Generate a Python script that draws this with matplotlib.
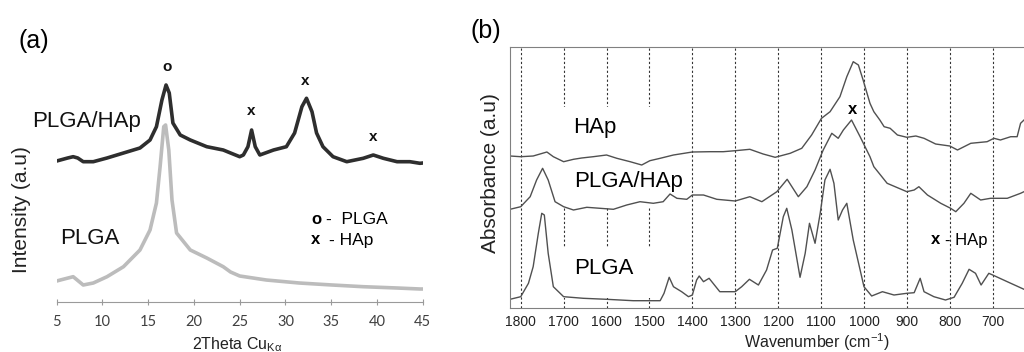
import matplotlib.pyplot as plt
from matplotlib.patches import Rectangle

plt.rcParams['font.family'] = ['Liberation Sans', 'DejaVu Sans']
plt.rcParams['mathtext.fontset'] = 'custom'
plt.rcParams['mathtext.rm'] = 'Liberation Sans'
plt.rcParams['mathtext.it'] = 'Liberation Sans:italic'
plt.rcParams['mathtext.bf'] = 'Liberation Sans:bold'

#
# ---- (a) XRD data (intensity in arbitrary units)
xrdAngleComp = [5.0, 5.4, 6.2, 6.8, 7.3, 7.9, 9.0, 10.5, 12.3, 14.1, 15.2, 15.9,
                16.5, 16.95, 17.3, 17.7, 18.5, 19.6, 21.4, 23.2, 24.0, 25.0,
                25.4, 25.9, 26.3, 26.7, 27.2, 28.7, 30.1, 31.0, 31.8, 32.3,
                32.9, 33.4, 34.1, 35.2, 36.7, 38.5, 39.6, 40.7, 42.2, 43.6,
                44.7, 45.0]
xrdComp = [140.7, 141.7, 143.7, 145.0, 143.7, 140.0, 140.0, 143.7, 148.7, 153.7,
           161.7, 175.0, 201.7, 216.7, 208.7, 178.7, 166.7, 161.7, 155.0, 151.7,
           148.7, 145.0, 146.7, 155.0, 171.7, 155.0, 146.7, 151.7, 155.0, 168.7,
           195.0, 203.4, 190.0, 168.7, 155.0, 145.0, 140.0, 143.4, 146.7, 143.4,
           140.0, 140.0, 138.4, 138.7]
xrdAnglePlga = [5.0, 5.4, 6.8, 7.9, 9.0, 10.5, 12.3, 14.1, 15.2, 15.9, 16.3, 16.7,
                16.9, 17.25, 17.6, 18.1, 19.6, 21.4, 23.2, 24.0, 25.0, 27.9,
                31.5, 35.1, 38.5, 42.2, 44.7, 45.0]
xrdPlga = [20.7, 21.7, 25.0, 16.7, 18.7, 25.0, 35.0, 51.7, 71.7, 98.7, 135.0,
           175.0, 176.7, 151.7, 101.7, 68.7, 51.7, 43.7, 35.0, 29.7, 25.7, 21.7,
           18.7, 16.7, 15.0, 13.7, 12.7, 12.7]
xrdTicks = [5, 10, 15, 20, 25, 30, 35, 40, 45]
xrdPeakAngles = [17.05, 26.2, 32.2, 39.6]
xrdPeakHeights = [234.7, 191.0, 220.7, 165.0]
xrdPeakSymbols = ['o', 'x', 'x', 'x']

#
# ---- (b) FTIR data (absorbance in arbitrary units)
wnHap = [1825, 1800, 1771, 1739, 1724, 1700, 1677, 1658, 1631, 1600, 1576, 1545,
         1518, 1499, 1475, 1444, 1400, 1359, 1328, 1300, 1266, 1235, 1207, 1172,
         1145, 1122, 1099, 1079, 1056, 1040, 1025, 1013, 1002, 986, 977, 963,
         953, 939, 922, 900, 879, 860, 833, 800, 782, 751, 713, 697, 682, 658,
         643, 635, 627]
absHap = [151.7, 151.0, 151.7, 155.7, 151.0, 146.0, 148.4, 149.7, 151.0, 152.7,
          149.4, 146.0, 142.7, 147.0, 149.4, 152.7, 155.7, 156.0, 156.0, 157.0,
          158.4, 153.7, 150.4, 154.4, 159.4, 172.7, 189.4, 196.0, 211.0, 231.0,
          246.0, 242.7, 227.7, 204.4, 196.0, 187.7, 181.0, 179.4, 172.7, 170.4,
          171.7, 169.4, 163.7, 161.7, 157.7, 164.4, 166.0, 169.4, 167.7, 171.0,
          171.0, 184.4, 187.7]
wnComp = [1825, 1800, 1778, 1763, 1749, 1736, 1720, 1700, 1677, 1646, 1615, 1584,
          1553, 1522, 1491, 1468, 1452, 1436, 1413, 1400, 1374, 1343, 1300, 1266,
          1238, 1203, 1179, 1153, 1133, 1114, 1095, 1075, 1060, 1048, 1029, 1009,
          986, 977, 946, 900, 883, 872, 852, 821, 798, 786, 767, 751, 728, 705,
          666, 635, 627]
absComp = [98.4, 101.0, 111.0, 127.7, 139.4, 127.7, 106.0, 101.0, 97.7, 100.4,
           99.4, 98.4, 102.7, 106.0, 104.4, 106.0, 113.7, 109.4, 108.4, 112.7,
           112.7, 108.4, 106.7, 111.0, 106.0, 116.0, 128.4, 111.0, 121.0, 137.7,
           157.7, 174.4, 169.4, 177.7, 187.7, 171.0, 151.0, 141.0, 124.4, 116.0,
           117.7, 121.0, 112.7, 104.4, 99.4, 96.0, 104.4, 114.4, 107.7, 109.4,
           109.4, 114.4, 116.0]
wnPlga = [1825, 1800, 1782, 1771, 1759, 1751, 1745, 1736, 1724, 1700, 1654, 1600,
          1538, 1475, 1466, 1454, 1444, 1425, 1409, 1400, 1390, 1384, 1374, 1361,
          1336, 1300, 1285, 1267, 1246, 1227, 1213, 1202, 1188, 1180, 1168, 1149,
          1137, 1127, 1114, 1102, 1091, 1079, 1070, 1060, 1050, 1040, 1025, 1000,
          982, 957, 930, 900, 883, 869, 860, 837, 810, 790, 771, 755, 740, 727,
          709, 700, 666, 627]
absPlga = [8.4, 11.0, 24.4, 41.0, 74.4, 94.4, 92.7, 54.4, 21.0, 11.0, 9.4, 8.4,
           7.0, 7.0, 14.4, 30.4, 21.0, 16.0, 11.0, 12.7, 27.7, 31.7, 26.0, 29.4,
           16.0, 16.0, 21.0, 28.4, 22.7, 37.7, 57.7, 59.4, 91.0, 99.4, 77.7, 30.4,
           54.4, 84.4, 64.4, 94.4, 127.7, 138.4, 124.4, 87.7, 97.7, 104.4, 67.7,
           21.0, 11.7, 16.0, 12.7, 14.4, 15.0, 29.4, 16.0, 11.0, 7.7, 10.4, 24.4,
           38.4, 34.4, 22.7, 34.4, 32.7, 26.0, 18.4]
ftirTicks = [1800, 1700, 1600, 1500, 1400, 1300, 1200, 1100, 1000, 900, 800, 700]


def main():
    W, H = 1024, 352
    fig = plt.figure(figsize=(W / 100, H / 100), dpi=100)

    #
    # ---- panel (a)
    ax1 = fig.add_axes([56.7 / W, 1 - 301.7 / H, 366 / W, 251.7 / H])
    ax1.plot(xrdAnglePlga, xrdPlga, color='#bcbcbc', lw=2.6, zorder=2)
    ax1.plot(xrdAngleComp, xrdComp, color='#2e2e2e', lw=2.6, zorder=3)
    ax1.set_xlim(5, 45)
    ax1.set_ylim(0, 251.7)
    for s in ['left', 'top', 'right']:
        ax1.spines[s].set_visible(False)
    ax1.spines['bottom'].set_color('#9a9a9a')
    ax1.set_yticks([])
    ax1.set_xticks(xrdTicks)
    ax1.tick_params(axis='x', direction='inout', length=5, color='#9a9a9a',
                    labelsize=10.5, labelcolor='#404040', pad=7)
    for lab in ax1.get_xticklabels():
        lab.set_family('Lato')
    for xa, ya, sym in zip(xrdPeakAngles, xrdPeakHeights, xrdPeakSymbols):
        ax1.text(xa, ya, sym, ha='center', va='center', fontsize=11,
                 fontweight='bold', color='#111111')
    ax1.text(2.3, 180, 'PLGA/HAp', fontsize=16, va='center', ha='left',
             clip_on=False, color='#111111')
    ax1.text(5.36, 63, 'PLGA', fontsize=16, va='center', ha='left',
             color='#111111')
    ax1.text(32.8, 82.7, 'o', fontsize=12, fontweight='bold', va='center')
    ax1.text(34.4, 82.7, '-  PLGA', fontsize=12.5, va='center')
    ax1.text(32.8, 61.7, 'x', fontsize=12, fontweight='bold', va='center')
    ax1.text(34.8, 61.7, '- HAp', fontsize=12.5, va='center')

    fig.text(19 / W, 1 - 41 / H, '(a)', fontsize=18, va='center', ha='left')
    fig.text(22 / W, 1 - 210 / H, 'Intensity (a.u)', fontsize=15,
             rotation=90, ha='center', va='center', color='#222222')
    fig.text(237 / W, 1 - 349 / H, r'2Theta Cu$_{\mathregular{K\alpha}}$',
             fontsize=11.5, ha='center', va='baseline', color='#222222')

    #
    # ---- panel (b)
    ax2 = fig.add_axes([510 / W, 1 - 307.7 / H, 514 / W, 260.4 / H])
    ax2.set_xlim(1825, 627)
    ax2.set_ylim(0, 260.4)
    ax2.vlines(ftirTicks, 0, 260.4, colors='#333333', lw=0.8,
               linestyles=(0, (2, 2)), zorder=1)
    # white text boxes hiding the grid behind the labels
    for y0, h in [(99.7, 101.0), (9.7, 51.0)]:
        ax2.add_patch(Rectangle((1488, y0), 224, h, facecolor='white',
                                edgecolor='none', zorder=1.5))
    ax2.plot(wnHap, absHap, color='#505050', lw=1.0, zorder=2.5)
    ax2.plot(wnComp, absComp, color='#505050', lw=1.0, zorder=2.5)
    ax2.plot(wnPlga, absPlga, color='#505050', lw=1.0, zorder=2.5)
    for s in ['left', 'top', 'bottom']:
        ax2.spines[s].set_color('#808080')
    ax2.spines['right'].set_visible(False)
    ax2.set_yticks([])
    ax2.set_xticks(ftirTicks)
    ax2.tick_params(axis='x', length=0, labelsize=10, pad=5,
                    labelcolor='#222222')

    ax2.text(1679, 180.2, 'HAp', fontsize=16, va='center', zorder=3)
    ax2.text(1676, 126, 'PLGA/HAp', fontsize=16, va='center', zorder=3)
    ax2.text(1676, 39.2, 'PLGA', fontsize=16, va='center', zorder=3)
    ax2.text(1027, 197.7, 'x', fontsize=12, fontweight='bold', ha='center',
             va='center', zorder=3)
    ax2.text(845, 67.7, 'x', fontsize=12, fontweight='bold', va='center',
             zorder=3)
    ax2.text(811, 67.7, '- HAp', fontsize=12, va='center', zorder=3)

    fig.text(470 / W, 1 - 31 / H, '(b)', fontsize=18, va='center', ha='left')
    fig.text(490 / W, 1 - 173 / H, 'Absorbance (a.u)', fontsize=15,
             rotation=90, ha='center', va='center', color='#222222')
    fig.text(816.7 / W, 1 - 348 / H, r'Wavenumber (cm$^{\mathregular{-1}}$)',
             fontsize=11.5, ha='center', va='baseline', color='#222222')

    fig.savefig('out.png', dpi=100)


if __name__ == '__main__':
    main()
